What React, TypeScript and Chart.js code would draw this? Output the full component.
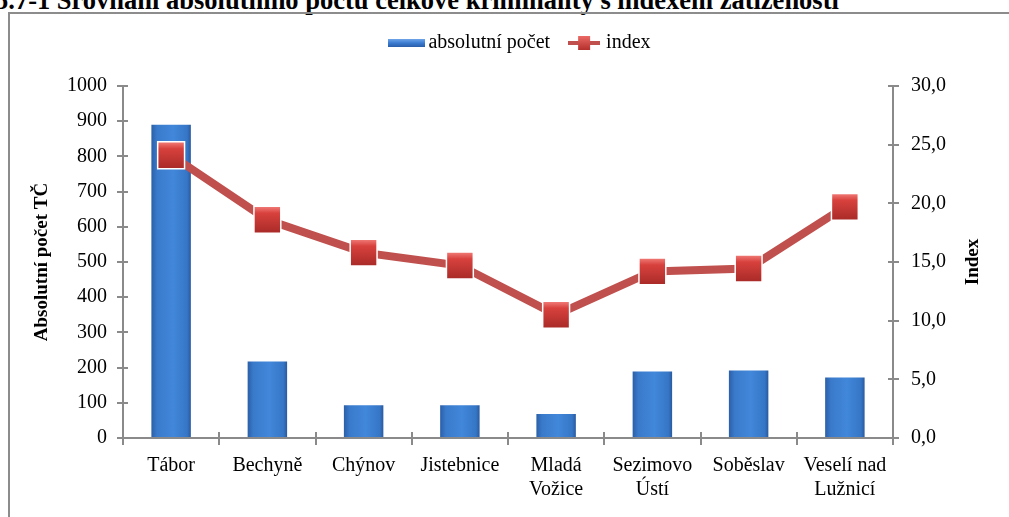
import React, { useEffect, useRef } from 'react';
import { Chart, registerables, layouts } from 'chart.js';

Chart.register(...registerables);

const categories: (string | string[])[] = [
  'Tábor',
  'Bechyně',
  'Chýnov',
  'Jistebnice',
  ['Mladá', 'Vožice'],
  ['Sezimovo', 'Ústí'],
  'Soběslav',
  ['Veselí nad', 'Lužnicí'],
];
const absoluteCounts = [890, 217, 93, 93, 68, 189, 192, 172];
const indexValues = [24.1, 18.6, 15.8, 14.7, 10.5, 14.2, 14.45, 19.7];

const titleText = '5.7-1 Srovnání absolutního počtu celkové kriminality s indexem zatíženosti';
const leftAxisTitle = 'Absolutní počet TČ';
const rightAxisTitle = 'Index';
const barLabel = 'absolutní počet';
const lineLabel = 'index';

const SERIF = "'Liberation Serif', 'Times New Roman', serif";
const AXIS_COLOR = '#8a8a8a';

function makeBarIcon(): HTMLCanvasElement {
  const c = document.createElement('canvas');
  c.width = 37;
  c.height = 8;
  const g = c.getContext('2d')!;
  const grad = g.createLinearGradient(0, 0, 0, 8);
  grad.addColorStop(0, '#6fa5e8');
  grad.addColorStop(0.5, '#3a7bd0');
  grad.addColorStop(1, '#2a5ea8');
  g.fillStyle = grad;
  g.fillRect(0, 0, 37, 8);
  return c;
}

function makeLineIcon(): HTMLCanvasElement {
  const c = document.createElement('canvas');
  c.width = 32;
  c.height = 16;
  const g = c.getContext('2d')!;
  g.fillStyle = '#c0504d';
  g.fillRect(0, 6, 32, 4);
  const grad = g.createLinearGradient(0, 1, 0, 15);
  grad.addColorStop(0, '#ec6a66');
  grad.addColorStop(1, '#b3302d');
  g.fillStyle = grad;
  g.fillRect(10, 1, 12, 14);
  return c;
}

const spacer = {
  id: 'spacer',
  beforeInit(chart: any) {
    const box: any = {
      position: 'top',
      weight: 500,
      fullSize: true,
      options: {},
      left: 0,
      top: 0,
      right: 0,
      bottom: 0,
      width: 0,
      height: 0,
      isHorizontal() {
        return true;
      },
      update(maxWidth: number) {
        this.width = maxWidth;
        this.height = 23;
      },
      draw() {},
    };
    layouts.addBox(chart, box);
  },
};

const innerTicks = {
  id: 'innerTicks',
  afterDraw(chart: any) {
    const { ctx, chartArea } = chart;
    const { left, right, bottom, top } = chartArea;
    ctx.save();
    ctx.strokeStyle = AXIS_COLOR;
    ctx.lineWidth = 2;
    const y = chart.scales.y;
    y.ticks.forEach((t: any) => {
      const p = Math.round(y.getPixelForValue(t.value));
      ctx.beginPath();
      ctx.moveTo(left, p);
      ctx.lineTo(left + 5, p);
      ctx.stroke();
    });
    const y1 = chart.scales.y1;
    y1.ticks.forEach((t: any) => {
      const p = Math.round(y1.getPixelForValue(t.value));
      ctx.beginPath();
      ctx.moveTo(right - 5, p);
      ctx.lineTo(right, p);
      ctx.stroke();
    });
    const n = categories.length;
    for (let i = 0; i <= n; i++) {
      const px = Math.round(left + ((right - left) * i) / n);
      ctx.beginPath();
      ctx.moveTo(px, bottom - 6);
      ctx.lineTo(px, bottom);
      ctx.stroke();
    }
    const midY = (top + bottom) / 2;
    ctx.fillStyle = '#000';
    ctx.font = `bold 19px ${SERIF}`;
    ctx.textAlign = 'center';
    ctx.textBaseline = 'middle';
    ctx.save();
    ctx.translate(42, midY);
    ctx.rotate(-Math.PI / 2);
    ctx.fillText(leftAxisTitle, 0, 0);
    ctx.restore();
    ctx.translate(973, midY);
    ctx.rotate(-Math.PI / 2);
    ctx.fillText(rightAxisTitle, 0, 0);
    ctx.restore();
  },
};

export default function App() {
  const ref = useRef<HTMLCanvasElement | null>(null);

  useEffect(() => {
    if (!ref.current) return;
    const barIcon = makeBarIcon();
    const lineIcon = makeLineIcon();
    const tickFont = { family: SERIF, size: 20 };

    const chart = new Chart(ref.current, {
      type: 'bar',
      data: {
        labels: categories as any,
        datasets: [
          {
            type: 'line',
            label: lineLabel,
            data: indexValues,
            yAxisID: 'y1',
            order: 0,
            borderColor: '#c0504d',
            borderWidth: 8,
            pointStyle: 'rect',
            pointRadius: 19,
            pointBorderColor: '#ffffff',
            pointBorderWidth: 1.5,
            pointBackgroundColor: (c: any) => {
              const ch = c.chart;
              const s = ch.scales && ch.scales.y1;
              if (!s || c.type !== 'data') return '#cf3b38';
              const cy = s.getPixelForValue(c.raw);
              if (!Number.isFinite(cy)) return '#cf3b38';
              const g = ch.ctx.createLinearGradient(0, cy - 13, 0, cy + 13);
              g.addColorStop(0, '#f07a76');
              g.addColorStop(0.25, '#d8413d');
              g.addColorStop(1, '#a92b28');
              return g;
            },
            fill: false,
            tension: 0,
          } as any,
          {
            type: 'bar',
            label: barLabel,
            data: absoluteCounts,
            yAxisID: 'y',
            order: 1,
            barPercentage: 0.41,
            categoryPercentage: 1,
            backgroundColor: (c: any) => {
              const ch = c.chart;
              const s = ch.scales && ch.scales.x;
              if (!s || c.type !== 'data') return '#3a78c8';
              const cx = s.getPixelForValue(c.dataIndex);
              if (!Number.isFinite(cx)) return '#3a78c8';
              const g = ch.ctx.createLinearGradient(cx - 20, 0, cx + 20, 0);
              g.addColorStop(0, '#2a5ea6');
              g.addColorStop(0.15, '#3a7acb');
              g.addColorStop(0.55, '#4187da');
              g.addColorStop(0.9, '#3676c6');
              g.addColorStop(1, '#28589c');
              return g;
            },
            borderWidth: 0,
          } as any,
        ],
      },
      options: {
        animation: false,
        responsive: true,
        maintainAspectRatio: false,
        layout: { padding: { top: 11, left: 36, right: 0, bottom: 0 } },
        plugins: {
          tooltip: { enabled: false },
          legend: {
            position: 'top',
            labels: {
              usePointStyle: true,
              pointStyleWidth: 24,
              padding: 22,
              color: '#000',
              font: { family: SERIF, size: 20 },
              generateLabels: () => [
                {
                  text: barLabel,
                  pointStyle: barIcon,
                  fillStyle: '#3a78c8',
                  strokeStyle: '#3a78c8',
                  lineWidth: 0,
                  hidden: false,
                  datasetIndex: 1,
                } as any,
                {
                  text: lineLabel,
                  pointStyle: lineIcon,
                  fillStyle: '#c0504d',
                  strokeStyle: '#c0504d',
                  lineWidth: 0,
                  hidden: false,
                  datasetIndex: 0,
                } as any,
              ],
            },
          },
        },
        scales: {
          x: {
            offset: true,
            grid: {
              offset: true,
              drawOnChartArea: false,
              color: AXIS_COLOR,
              lineWidth: 2,
              tickLength: 7,
            },
            border: { color: AXIS_COLOR, width: 2 },
            ticks: {
              color: '#000',
              font: { ...tickFont, lineHeight: 1.2 },
              padding: 9,
              maxRotation: 0,
              autoSkip: false,
            },
            afterFit: (s: any) => {
              s.height = 79;
            },
          },
          y: {
            position: 'left',
            min: 0,
            max: 1000,
            grid: {
              drawOnChartArea: false,
              color: AXIS_COLOR,
              lineWidth: 2,
              tickLength: 6,
            },
            border: { color: AXIS_COLOR, width: 2 },
            ticks: {
              stepSize: 100,
              color: '#000',
              font: tickFont,
              padding: 10,
              callback: (v: any) => String(v),
            },
            afterFit: (s: any) => {
              s.width = 87;
            },
          },
          y1: {
            position: 'right',
            min: 0,
            max: 30,
            grid: {
              drawOnChartArea: false,
              color: AXIS_COLOR,
              lineWidth: 2,
              tickLength: 6,
            },
            border: { color: AXIS_COLOR, width: 2 },
            ticks: {
              stepSize: 5,
              color: '#000',
              font: tickFont,
              padding: 12,
              callback: (v: any) => Number(v).toFixed(1).replace('.', ','),
            },
            afterFit: (s: any) => {
              s.width = 116;
            },
          },
        },
      } as any,
      plugins: [spacer, innerTicks],
    });
    return () => chart.destroy();
  }, []);

  return (
    <div
      style={{
        position: 'fixed',
        left: 0,
        top: 0,
        width: 1009,
        height: 517,
        overflow: 'hidden',
        background: '#fff',
      }}
    >
      <div
        style={{
          position: 'absolute',
          left: -5,
          top: -13,
          whiteSpace: 'nowrap',
          fontFamily: SERIF,
          fontWeight: 'bold',
          fontSize: 26.5,
          lineHeight: '26px',
          color: '#000',
        }}
      >
        {titleText}
      </div>
      <div
        style={{
          position: 'absolute',
          left: 8,
          top: 12,
          width: 1020,
          height: 530,
          border: '2px solid #8c8c8c',
          boxSizing: 'border-box',
        }}
      />
      <div style={{ position: 'absolute', left: 0, top: 0, width: 1009, height: 517 }}>
        <canvas ref={ref} />
      </div>
    </div>
  );
}
